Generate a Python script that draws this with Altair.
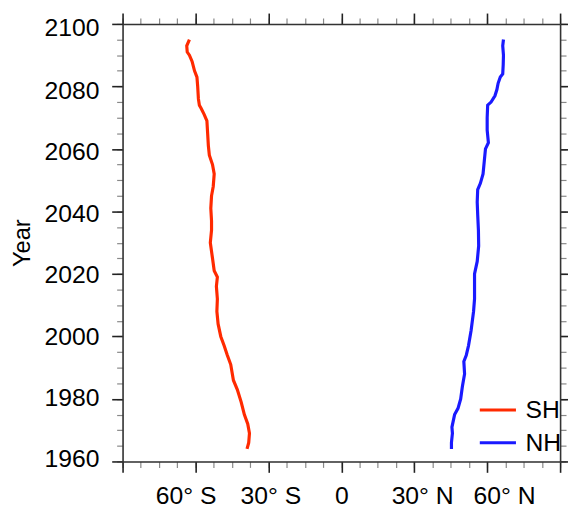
import altair as alt
import pandas as pd

# Southern Hemisphere edge (latitude, negative = south) by year
sh_years = [1964, 1966, 1969, 1972, 1975, 1979, 1983, 1986, 1991, 1994, 1997, 2000,
            2004, 2008, 2012, 2016, 2019, 2021, 2025, 2030, 2034, 2037, 2041, 2045,
            2048, 2052, 2055, 2058, 2061, 2065, 2069, 2071, 2073, 2074, 2076, 2080,
            2083, 2085, 2088, 2090, 2091, 2093, 2095]
sh_lat = [-38.8, -38.1, -37.8, -38.5, -39.9, -41.2, -42.8, -44.4, -45.5, -46.9, -48.2, -49.6,
          -50.7, -51.2, -51.0, -51.4, -51.0, -52.3, -53.0, -53.9, -53.4, -53.4, -53.7, -53.4,
          -52.7, -52.3, -53.0, -54.3, -54.7, -55.0, -55.3, -56.4, -57.7, -58.4, -58.8, -59.1,
          -59.4, -60.4, -61.4, -62.5, -63.4, -63.6, -62.5]

# Northern Hemisphere edge by year
nh_years = [1964, 1966, 1969, 1971, 1975, 1977, 1980, 1984, 1988, 1992, 1994, 1997,
            2002, 2008, 2012, 2016, 2020, 2024, 2029, 2034, 2039, 2043, 2047, 2049,
            2052, 2056, 2060, 2062, 2066, 2070, 2074, 2075, 2077, 2079, 2081, 2083,
            2084, 2087, 2090, 2093, 2095]
nh_lat = [45.3, 45.3, 45.7, 45.5, 46.6, 48.0, 49.1, 49.8, 50.7, 50.4, 51.4, 52.3,
          53.4, 54.4, 54.8, 54.8, 54.8, 55.9, 56.5, 56.4, 56.1, 55.9, 56.1, 57.2,
          58.3, 58.8, 59.3, 60.5, 60.0, 60.0, 60.2, 61.6, 63.2, 64.0, 64.5, 65.4,
          66.4, 66.6, 66.7, 66.4, 66.7]

series = ["SH", "NH"]
colors = ["#ff2a00", "#1a1aff"]

x_major = [-90, -60, -30, 0, 30, 60, 90]
x_minor = [-90 + 7.5 * i for i in range(25)]
y_major = [1960, 1980, 2000, 2020, 2040, 2060, 2080, 2100]
y_minor = [1960 + 5 * i for i in range(29)]

df = pd.concat([
    pd.DataFrame({"year": sh_years, "lat": sh_lat, "hem": "SH"}),
    pd.DataFrame({"year": nh_years, "lat": nh_lat, "hem": "NH"}),
], ignore_index=True)

FONT = "Liberation Sans"
FS = 25
xscale = alt.Scale(domain=[-90, 90], nice=False, zero=False)
yscale = alt.Scale(domain=[1960, 2100], nice=False, zero=False)

x_label_off = {"condition": [
    {"test": "datum.value == -60", "value": -10},
    {"test": "datum.value == -30", "value": 2},
    {"test": "datum.value == 30", "value": 8},
    {"test": "datum.value == 60", "value": 17},
], "value": 0}
y_label_off = {"condition": [
    {"test": "datum.value == 2100", "value": 4},
    {"test": "datum.value == 2080", "value": 4},
    {"test": "datum.value == 2060", "value": 3},
    {"test": "datum.value == 2040", "value": 2},
    {"test": "datum.value == 2020", "value": 1},
    {"test": "datum.value == 1980", "value": -1},
    {"test": "datum.value == 1960", "value": -3},
], "value": 0}

major_common = dict(tickSize=11, tickWidth=1.6, tickColor="#222222", grid=False,
                    domainColor="#333333", domainWidth=1.6, labelFont=FONT,
                    labelFontSize=FS, labelColor="black", labelOverlap=False,
                    labelFlush=False, labelBound=False)
minor_common = dict(tickSize=6, tickWidth=1.2, tickColor="#888888", grid=False,
                    domain=False, labels=False, title=None)

x_bottom = alt.Axis(orient="bottom", values=x_major, title=None, labelPadding=12,
                    labelOffset=x_label_off,
                    labelExpr="abs(datum.value) == 90 ? '' : datum.value == 0 ? '0' : datum.value < 0 ? (-datum.value) + '° S' : datum.value + '° N'",
                    **major_common)
y_left = alt.Axis(orient="left", values=y_major, title="Year", titleFont=FONT,
                  titleFontSize=24, titleFontWeight="normal", titleColor="black",
                  titlePadding=10, labelPadding=13, labelOffset=y_label_off,
                  format="d", **major_common)

line = alt.Chart(df).mark_line(strokeWidth=3.2).encode(
    x=alt.X("lat:Q", scale=xscale, axis=x_bottom),
    y=alt.Y("year:Q", scale=yscale, axis=y_left),
    color=alt.Color("hem:N", scale=alt.Scale(domain=series, range=colors),
                    sort=series,
                    legend=alt.Legend(title=None, orient="none", legendX=360, legendY=371,
                                      symbolType="stroke", symbolSize=1340,
                                      symbolStrokeWidth=3, labelFont=FONT,
                                      labelFontSize=FS, labelColor="black",
                                      labelOffset=8, rowPadding=-6, padding=0)),
    order="year:Q",
)

def ghost(xaxis, yaxis):
    return alt.Chart(df).mark_point(opacity=0).encode(
        x=alt.X("lat:Q", scale=xscale, axis=xaxis),
        y=alt.Y("year:Q", scale=yscale, axis=yaxis),
    )

minor_bl = ghost(alt.Axis(orient="bottom", values=x_minor, **minor_common),
                 alt.Axis(orient="left", values=y_minor, **minor_common))
major_tr = ghost(alt.Axis(orient="top", values=x_major, labels=False, title=None,
                          tickSize=11, tickWidth=1.6, tickColor="#222222", grid=False,
                          domainColor="#333333", domainWidth=1.6),
                 alt.Axis(orient="right", values=y_major, labels=False, title=None,
                          tickSize=11, tickWidth=1.6, tickColor="#222222", grid=False,
                          domainColor="#333333", domainWidth=1.6))
minor_tr = ghost(alt.Axis(orient="top", values=x_minor, **minor_common),
                 alt.Axis(orient="right", values=y_minor, **minor_common))

chart = alt.layer(minor_bl, minor_tr, major_tr, line).resolve_axis(
    x="independent", y="independent"
).properties(
    width=443, height=443,
    autosize=alt.AutoSizeParams(type="none"),
    padding={"left": 116, "top": 13, "right": 8, "bottom": 44},
).configure_view(stroke=None).configure(background="white")

chart.save("out.html", embed_options={"renderer": "svg", "actions": False})
